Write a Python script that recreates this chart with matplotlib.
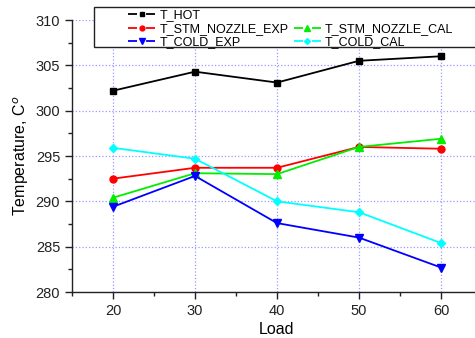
import matplotlib
matplotlib.use('Agg')
import matplotlib.pyplot as plt
from matplotlib.lines import Line2D
from matplotlib.patches import Rectangle
from matplotlib.ticker import MultipleLocator

plt.rcParams['font.family'] = ['Liberation Sans', 'DejaVu Sans']

load = [20, 30, 40, 50, 60]
t_hot = [302.2, 304.3, 303.1, 305.5, 306.0]
t_stm_exp = [292.5, 293.7, 293.7, 296.0, 295.8]
t_stm_cal = [290.4, 293.1, 293.0, 296.0, 296.9]
t_cold_exp = [289.4, 292.8, 287.6, 286.0, 282.7]
t_cold_cal = [295.9, 294.7, 290.0, 288.8, 285.4]

series = [
    ('T_HOT', t_hot, 'black', 's', 4.5),
    ('T_STM_NOZZLE_EXP', t_stm_exp, 'red', 'o', 5.0),
    ('T_STM_NOZZLE_CAL', t_stm_cal, '#00ee00', '^', 5.5),
    ('T_COLD_EXP', t_cold_exp, 'blue', 'v', 5.5),
    ('T_COLD_CAL', t_cold_cal, 'cyan', 'D', 4.3),
]

W, H = 475, 338
fig = plt.figure(figsize=(W / 100, H / 100), dpi=100)
ax = fig.add_axes([72 / W, 1 - 292 / H, 410 / W, 272 / H])

lw = 1.3
proxies = {}
for name, vals, col, mk, ms in series:
    ax.plot(load, vals, color=col, marker=mk, lw=lw, ms=ms, label=name)
    proxies[name] = Line2D([], [], color=col, marker=mk, lw=lw, ms=ms * 0.7,
                           dashes=(6.5 / lw, 6.5 / lw), label=name)
blank = Line2D([], [], color='none', label=' ')

ax.set_xlim(15, 65)
ax.set_ylim(280, 310)
ax.xaxis.set_major_locator(MultipleLocator(10))
ax.xaxis.set_minor_locator(MultipleLocator(5))
ax.yaxis.set_major_locator(MultipleLocator(5))
ax.yaxis.set_minor_locator(MultipleLocator(2.5))
ax.tick_params(which='major', direction='out', length=5, width=1.0, labelsize=10.5, colors='#222222')
ax.tick_params(which='minor', direction='out', length=3, width=1.0, colors='#222222')
ax.spines['top'].set_visible(False)
ax.spines['right'].set_visible(False)
for s in ('left', 'bottom'):
    ax.spines[s].set_linewidth(1.0)
    ax.spines[s].set_color('#222222')
ax.grid(True, which='major', color='#9999ff', linestyle=':', linewidth=0.9)
ax.set_axisbelow(True)

ax.set_xlabel('Load', fontsize=11.5, labelpad=3)
ax.set_ylabel('Temperature, C$^o$', fontsize=11.5, labelpad=3)

# legend frame drawn separately (Origin-style wide left padding)
fig.patches.append(Rectangle((94 / W, 1 - 47 / H), (W + 10 - 94) / W, 40 / H,
                             transform=fig.transFigure, facecolor='white',
                             edgecolor='#222222', lw=1.0, zorder=3))
order = ['T_HOT', 'T_STM_NOZZLE_EXP', 'T_COLD_EXP', None, 'T_STM_NOZZLE_CAL', 'T_COLD_CAL']
handles = [proxies[n] if n else blank for n in order]
leg = fig.legend(handles=handles, ncol=2, loc='upper left',
                 bbox_to_anchor=(128 / W, 1 - 9.5 / H), bbox_transform=fig.transFigure,
                 frameon=False, fontsize=9, handlelength=2.16, handletextpad=0.35,
                 columnspacing=0.4, labelspacing=0.12, borderpad=0, borderaxespad=0)
leg.set_zorder(4)

fig.savefig('out.png', dpi=100)
